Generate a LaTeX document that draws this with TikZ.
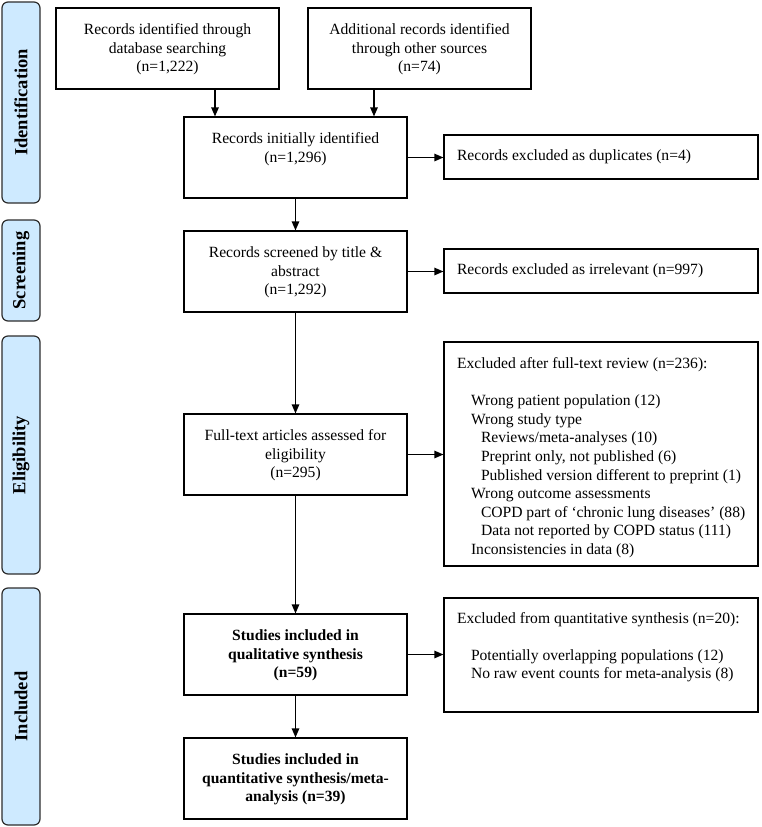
\documentclass[tikz,border=0pt]{standalone}
\usepackage{fontspec}
\setmainfont{Liberation Serif}
\usetikzlibrary{arrows.meta,calc}
\definecolor{sidefill}{RGB}{206,234,255}
\definecolor{sidedraw}{RGB}{45,45,45}
\newcommand{\mainbox}[1]{\parbox[c][81pt][t]{223pt}{\centering\rule{0pt}{26.5pt}#1}}
\newcommand{\onebox}[1]{\parbox[c][44pt][c]{314pt}{\raggedright\hspace*{13pt}#1}}
\tikzset{
  box/.style={draw=black, line width=1.2pt, inner sep=0pt, fill=white,
    font=\fontsize{15.6pt}{18.6pt}\selectfont},
  side/.style={draw=sidedraw, fill=sidefill, line width=1.2pt, rounded corners=6pt,
    rotate=90, inner sep=0pt, minimum height=38pt,
    font=\fontsize{18.5pt}{20pt}\selectfont\bfseries},
  arr/.style={line width=1.2pt, -{Triangle[length=9pt,width=7.5pt]}}
}
\begin{document}
\begin{tikzpicture}[x=1pt,y=-1pt]
\useasboundingbox (0,0) rectangle (761,827);
% phase labels
\node[side, minimum width=201pt] (s1) at (21,102.5) {Identification};
\node[side, minimum width=101pt] (s2) at (21,270.5) {Screening};
\node[side, minimum width=238pt] (s3) at (21,455) {Eligibility};
\node[side, minimum width=237pt] (s4) at (21,706.5) {Included};
% main column
\node[box] (a) at (167.5,48.5) {\mainbox{Records identified through\\database searching\\(n=1,222)}};
\node[box] (b) at (419.5,48.5) {\mainbox{Additional records identified\\through other sources\\(n=74)}};
\node[box] (c) at (295.5,157.5) {\mainbox{Records initially identified\\(n=1,296)}};
\node[box] (e) at (295.5,271.5) {\mainbox{Records screened by title \&\\abstract\\(n=1,292)}};
\node[box] (g) at (295.5,454.5) {\mainbox{Full-text articles assessed for\\eligibility\\(n=295)}};
\node[box] (i) at (295.5,654.5) {\mainbox{\bfseries Studies included in\\qualitative synthesis\\(n=59)}};
\node[box] (j) at (295.5,778.5) {\mainbox{\bfseries Studies included in\\quantitative synthesis/meta-\\analysis (n=39)}};
% exclusion boxes
\node[box] (d) at (601,157) {\onebox{Records excluded as duplicates (n=4)}};
\node[box] (f) at (601,271) {\onebox{Records excluded as irrelevant (n=997)}};
\node[box] (h) at (601,454) {\parbox[c][224pt][t]{314pt}{\raggedright\rule{0pt}{26.5pt}%
\hspace*{13pt}Excluded after full-text review (n=236):\\
\mbox{}\\
\hspace*{27pt}Wrong patient population (12)\\
\hspace*{27pt}Wrong study type\\
\hspace*{37pt}Reviews/meta-analyses (10)\\
\hspace*{37pt}Preprint only, not published (6)\\
\hspace*{37pt}Published version different to preprint (1)\\
\hspace*{27pt}Wrong outcome assessments\\
\hspace*{37pt}COPD part of ‘chronic lung diseases’ (88)\\
\hspace*{37pt}Data not reported by COPD status (111)\\
\hspace*{27pt}Inconsistencies in data (8)}};
\node[box] (k) at (601,655) {\parbox[c][114pt][t]{314pt}{\raggedright\rule{0pt}{25pt}%
\hspace*{13pt}Excluded from quantitative synthesis (n=20):\\
\mbox{}\\
\hspace*{27pt}Potentially overlapping populations (12)\\
\hspace*{27pt}No raw event counts for meta-analysis (8)}};
% connectors
\draw[arr] ($(a.south)+(47.5,0)$) -- ($(c.north)+(-80.5,0)$);
\draw[arr] ($(b.south)+(-45.5,0)$) -- ($(c.north)+(78.5,0)$);
\draw[arr] (c.east) -- (c.east -| d.west);
\draw[arr] (c.south) -- (e.north);
\draw[arr] (e.east) -- (e.east -| f.west);
\draw[arr] (e.south) -- (g.north);
\draw[arr] (g.east) -- (g.east -| h.west);
\draw[arr] (g.south) -- (i.north);
\draw[arr] (i.east) -- (i.east -| k.west);
\draw[arr] (i.south) -- (j.north);
\end{tikzpicture}
\end{document}
